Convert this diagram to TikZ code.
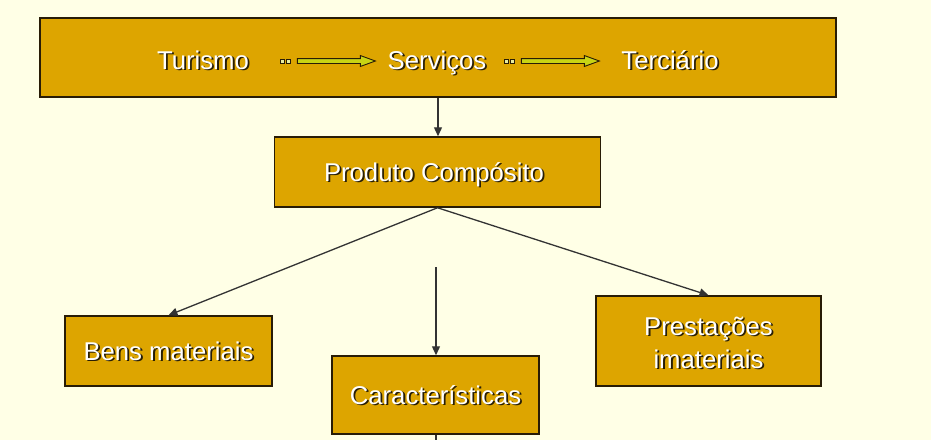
\documentclass[tikz,border=0pt]{standalone}
\usepackage{fontspec}
\setmainfont{Liberation Sans}
\usetikzlibrary{arrows.meta,shapes.arrows}
\definecolor{fundo}{RGB}{255,255,230}
\definecolor{ouro}{RGB}{221,165,0}
\definecolor{borda}{RGB}{40,28,6}
\definecolor{sombra}{RGB}{40,30,5}
\definecolor{lima}{RGB}{200,212,20}
\newcommand{\sombreado}[1]{\makebox[0pt][l]{\raisebox{-1.8pt}{\hspace{1.8pt}\textcolor{sombra}{#1}}}\textcolor{white}{#1}}
\begin{document}
\begin{tikzpicture}[
    x=1pt, y=-1pt,
    every node/.style={font=\fontsize{25.7}{33}\selectfont},
    caixa/.style={rectangle, draw=borda, line width=1.5pt, fill=ouro, inner sep=0pt, align=center},
    texto/.style={anchor=base, inner sep=0pt},
    seta/.style={-{Triangle[length=9pt,width=8pt]}, line width=1.3pt, draw=black!80},
    setagrossa/.style={single arrow, draw=borda, fill=lima, line width=0.9pt, minimum height=78pt,
        minimum width=10pt, single arrow head extend=3pt, single arrow tip angle=40,
        inner xsep=0pt, inner ysep=2pt},
    quadrado/.style={rectangle, draw=borda, fill=lima!40, line width=0.9pt, minimum size=4pt, inner sep=0pt}
]
% Fundo
\fill[fundo] (0,0) rectangle (931,440);
\useasboundingbox (0,0) rectangle (931,440);

% Caixa de cima
\node[caixa, minimum width=796pt, minimum height=79pt] (topo) at (438,57.5) {};
\node[texto] (tur) at (203,69) {\sombreado{Turismo}};
\node[texto] (ser) at (437,69) {\sombreado{Serviços}};
\node[texto] (ter) at (670,69) {\sombreado{Terciário}};
\node[quadrado] (q1) at (282,61) {};
\node[quadrado] (q2) at (288,61) {};
\node[setagrossa] (s1) at (333,61) {};
\node[quadrado] (q3) at (506,61) {};
\node[quadrado] (q4) at (512,61) {};
\node[setagrossa] (s2) at (557,61) {};

% Caixas
\node[caixa, minimum width=326pt, minimum height=70pt] (prod) at (437.5,172) {};
\node[texto] (prodt) at (434,181) {\sombreado{Produto Compósito}};
\node[caixa, minimum width=207pt, minimum height=70pt] (bens) at (168.5,351) {};
\node[texto] (benst) at (168.5,360) {\sombreado{Bens materiais}};
\node[caixa, minimum width=207pt, minimum height=78pt] (carac) at (435.5,395) {};
\node[texto] (caract) at (435.5,404) {\sombreado{Características}};
\node[caixa, minimum width=225pt, minimum height=90pt] (prest) at (708.5,341) {};
\node[texto] (prestt1) at (708.5,335) {\sombreado{Prestações}};
\node[texto] (prestt2) at (708.5,368) {\sombreado{imateriais}};

% Setas
\coordinate (livre) at (436,267);
\coordinate (fim) at (436,440);
\draw[seta] (topo.south) -- (topo.south |- prod.north);
\draw[seta] (prod.south) -- (bens.north);
\draw[seta] (prod.south) -- (prest.north);
\draw[seta] (livre) -- (livre |- carac.north);
\draw[line width=1.3pt, black!80] (carac.south -| fim) -- (fim);
\end{tikzpicture}
\end{document}
